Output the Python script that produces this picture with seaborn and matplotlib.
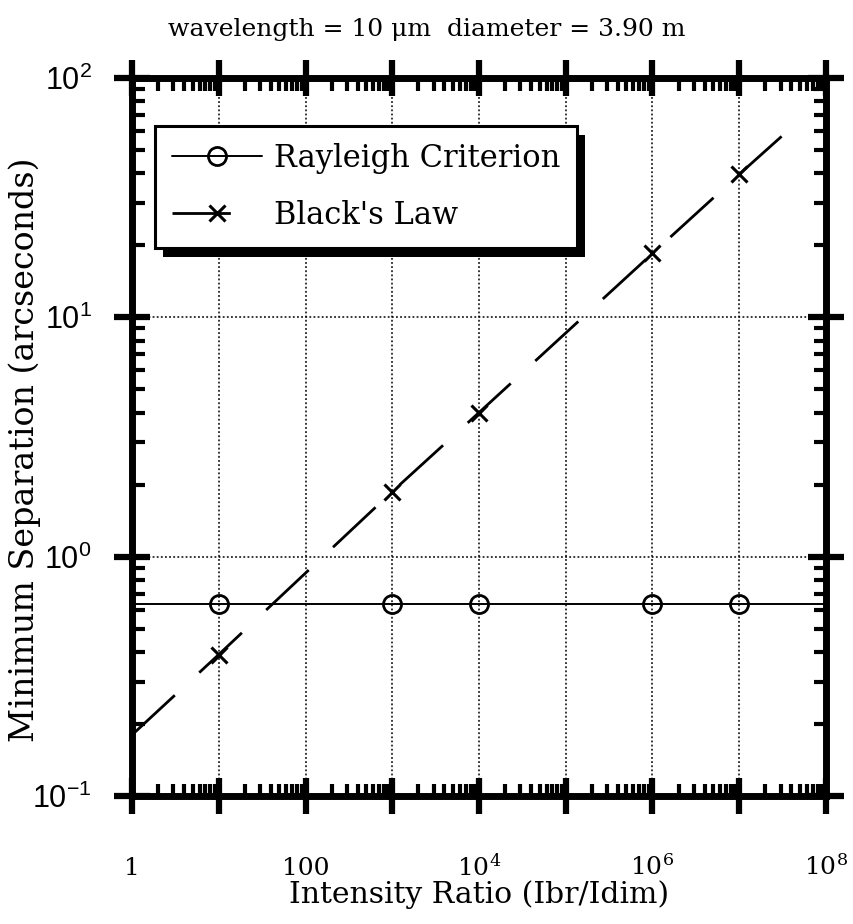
import numpy as np
import pandas as pd
import matplotlib
matplotlib.use("Agg")
import matplotlib.pyplot as plt
import seaborn as sns
from matplotlib.ticker import LogLocator, NullFormatter, FixedLocator, FixedFormatter
from matplotlib.patches import Rectangle
from matplotlib.transforms import IdentityTransform

# ---------------- data ----------------
title_text = "wavelength = 10 \u03bcm  diameter = 3.90 m"
x_label = "Intensity Ratio (Ibr/Idim)"
y_label = "Minimum Separation (arcseconds)"

rayleigh_x = [1, 10, 1e3, 1e4, 1e6, 1e7, 1e8]
rayleigh_y = [0.635, 0.635, 0.635, 0.635, 0.635, 0.635, 0.635]
black_x = [1, 10, 1e3, 1e4, 1e6, 1e7, 3.6e7]
black_y = [0.18, 0.39, 1.87, 4.0, 18.5, 39.6, 60.0]
marker_idx = [1, 2, 3, 4, 5]

x_major = [1, 10, 1e2, 1e3, 1e4, 1e5, 1e6, 1e7, 1e8]
x_labels = ["1", "", "100", "", r"$\mathregular{10^{4}}$", "", r"$\mathregular{10^{6}}$", "",
            r"$\mathregular{10^{8}}$"]
y_major = [0.1, 1, 10, 100]
y_labels = [r"$\mathregular{10^{-1}}$", r"$\mathregular{10^{0}}$", r"$\mathregular{10^{1}}$",
            r"$\mathregular{10^{2}}$"]

df_r = pd.DataFrame({"x": rayleigh_x, "y": rayleigh_y})
df_b = pd.DataFrame({"x": black_x, "y": black_y})

# ---------------- style ----------------
sns.set_style("white")
plt.rcParams["font.family"] = ["DejaVu Serif"]
plt.rcParams["mathtext.default"] = "regular"
for k in ["text.color", "axes.labelcolor", "xtick.color", "ytick.color", "axes.edgecolor"]:
    plt.rcParams[k] = "black"

fig = plt.figure(figsize=(8.54, 9.24), dpi=100)
ax = fig.add_axes([132 / 854, 1 - 796 / 924, 694 / 854, 718 / 924])

sns.lineplot(data=df_r, x="x", y="y", ax=ax, color="black", lw=1.4, marker="o",
             markevery=marker_idx, ms=13, mfc="none", mec="black", mew=2.0,
             label="Rayleigh Criterion", sort=False, estimator=None)
sns.lineplot(data=df_b, x="x", y="y", ax=ax, color="black", lw=2.0, marker="x",
             markevery=marker_idx, ms=12, mec="black", mew=2.2, ls=(0, (21, 12)),
             label="Black's Law", sort=False, estimator=None)

ax.set_xscale("log")
ax.set_yscale("log")
ax.set_xlim(1, 1e8)
ax.set_ylim(0.1, 100)

ax.xaxis.set_major_locator(FixedLocator(x_major))
ax.xaxis.set_major_formatter(FixedFormatter(x_labels))
ax.yaxis.set_major_locator(FixedLocator(y_major))
ax.yaxis.set_major_formatter(FixedFormatter(y_labels))
ax.xaxis.set_minor_locator(LogLocator(base=10, subs=np.arange(2, 10), numticks=20))
ax.yaxis.set_minor_locator(LogLocator(base=10, subs=np.arange(2, 10), numticks=20))
ax.xaxis.set_minor_formatter(NullFormatter())
ax.yaxis.set_minor_formatter(NullFormatter())

for s in ax.spines.values():
    s.set_linewidth(5)
    s.set_color("black")

ax.tick_params(which="major", direction="inout", length=26, width=4.5,
               top=True, right=True, bottom=True, left=True, color="black")
ax.tick_params(which="minor", direction="in", length=9, width=3,
               top=True, right=True, bottom=True, left=True, color="black")
ax.tick_params(axis="x", which="major", pad=44, labelsize=18)
ax.tick_params(axis="y", which="major", pad=16, labelsize=22)
for lab in ax.get_yticklabels():
    lab.set_family(["Liberation Sans", "DejaVu Sans"])
for lab in ax.get_xticklabels():
    lab.set_verticalalignment("baseline")

ax.grid(True, which="major", ls=(0, (1.2, 1.5)), color="black", lw=1.1)

ax.set_title(title_text, fontsize=18, pad=30, x=(427 - 132) / 694)
ax.set_xlabel(x_label, fontsize=21.5)
ax.set_ylabel(y_label, fontsize=24)
ax.xaxis.set_label_coords(0.5, -0.117)
ax.yaxis.set_label_coords(-0.131, 0.482)

leg = ax.legend(loc="upper left", bbox_to_anchor=(0.033, 0.933), borderaxespad=0,
                fontsize=22, handlelength=2.95, handletextpad=0.4, labelspacing=0.85,
                borderpad=0.55, fancybox=False, frameon=True, framealpha=1)
leg.get_frame().set_edgecolor("black")
leg.get_frame().set_linewidth(2.2)
leg.set_zorder(6)

fig.canvas.draw()
bb = leg.get_frame().get_window_extent(fig.canvas.get_renderer())
shadow = Rectangle((bb.x0 + 8, bb.y0 - 9), bb.width, bb.height, transform=IdentityTransform(),
                   facecolor="black", edgecolor="none", zorder=5.9, clip_on=False)
ax.add_artist(shadow)

fig.savefig("out.png", dpi=100, facecolor="white")
